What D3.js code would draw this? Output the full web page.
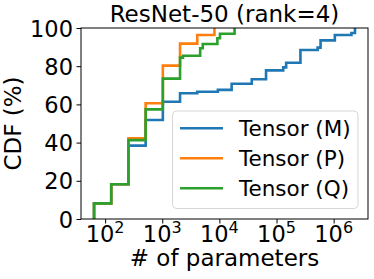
<!DOCTYPE html>
<html>
<head>
<meta charset="utf-8">
<script src="https://cdn.jsdelivr.net/npm/d3@7/dist/d3.min.js"></script>
<style>
  html, body { margin: 0; padding: 0; background: #fff; overflow: hidden; }
  svg { display: block; }
</style>
</head>
<body>
<svg id="chart" width="374" height="279" viewBox="0 0 374 279"></svg>
<script>
// chart data
const titleText = 'ResNet-50 (rank=4)';
const xLabel = '# of parameters';
const yLabel = 'CDF (%)';
const seriesNames = ['Tensor (M)', 'Tensor (P)', 'Tensor (Q)'];
const seriesColors = ['#1f77b4', '#ff7f0e', '#2ca02c'];

// tensor sizes (x) and cumulative percentage (y) at each step
const sizesM = [64, 128, 256, 512, 1024, 2048, 4096, 9408, 16384, 36864, 65536, 131072, 147456, 262144, 524288, 589824, 1048576, 2048000, 2359296];
const cdfM   = [8.2, 18.2, 38.4, 51.8, 61.4, 65.8, 66.6, 67.6, 70.8, 73.2, 77.8, 79.4, 81.8, 88.5, 89.7, 93.5, 96.3, 97.4, 100];
const sizesP = [64, 128, 256, 512, 1024, 2048, 4096, 8192];
const cdfP   = [8.2, 18.2, 42.2, 60.6, 80.3, 91.8, 96.3, 100];
const sizesQ = [64, 128, 256, 512, 1024, 2048, 2304, 4608, 5120, 9216, 10240, 18432];
const cdfQ   = [8.2, 18.2, 41.3, 57.4, 73.5, 84.5, 85.5, 89.4, 91.6, 94.6, 97.0, 100];

const xTickExps = [2, 3, 4, 5, 6];
const yTicks = [0, 20, 40, 60, 80, 100];

const series = [
  { name: seriesNames[0], color: seriesColors[0], sizes: sizesM, cdf: cdfM },
  { name: seriesNames[1], color: seriesColors[1], sizes: sizesP, cdf: cdfP },
  { name: seriesNames[2], color: seriesColors[2], sizes: sizesQ, cdf: cdfQ }
];

const FONT = 'DejaVu Sans, sans-serif';
const margin = { top: 28, right: 6, bottom: 60, left: 81 };
const width = 374, height = 279;
const innerWidth = width - margin.left - margin.right;
const innerHeight = height - margin.top - margin.bottom;

const svg = d3.select('#chart');
const g = svg.append('g').attr('transform', `translate(${margin.left},${margin.top})`);

// log x domain with 5% padding (in log space) like matplotlib autoscale
const allSizes = series.flatMap(s => s.sizes);
const lo = Math.log10(d3.min(allSizes)), hi = Math.log10(d3.max(allSizes));
const pad = (hi - lo) * 0.05;
const x = d3.scaleLog()
  .domain([Math.pow(10, lo - pad), Math.pow(10, hi + pad)])
  .range([0, innerWidth]);
const y = d3.scaleLinear().domain([0, 100]).range([innerHeight, 0]);

svg.append('defs').append('clipPath').attr('id', 'plot-clip')
  .append('rect').attr('x', 0).attr('y', -2).attr('width', innerWidth).attr('height', innerHeight + 2);

// step lines
const line = d3.line()
  .x(d => x(d[0]))
  .y(d => y(d[1]))
  .curve(d3.curveStepAfter);

const lines = g.append('g').attr('clip-path', 'url(#plot-clip)');
series.forEach(s => {
  const pts = [[s.sizes[0], 0]].concat(s.sizes.map((v, i) => [v, s.cdf[i]]));
  lines.append('path')
    .attr('d', line(pts))
    .attr('fill', 'none')
    .attr('stroke', s.color)
    .attr('stroke-width', 2.6)
    .attr('stroke-linejoin', 'miter');
});

// x axis (log, 10^n labels)
const xAxis = g.append('g')
  .attr('transform', `translate(0,${innerHeight})`)
  .call(d3.axisBottom(x).tickValues(xTickExps.map(e => Math.pow(10, e))).tickSize(4.5));
xAxis.select('.domain').remove();
xAxis.selectAll('.tick text').remove();
xAxis.selectAll('line').attr('stroke', '#000').attr('stroke-width', 1);

const xLabels = g.append('g');
xTickExps.forEach(e => {
  const t = xLabels.append('text')
    .attr('x', x(Math.pow(10, e)))
    .attr('y', innerHeight + 23)
    .attr('text-anchor', 'middle')
    .attr('font-family', FONT)
    .attr('font-size', 22.5)
    .attr('fill', '#000');
  t.append('tspan').text('10');
  t.append('tspan').attr('dy', -9.5).attr('font-size', 16).text(e);
});

// y axis
const yAxis = g.append('g')
  .call(d3.axisLeft(y).tickValues(yTicks).tickSize(4.5).tickPadding(3.5));
yAxis.select('.domain').remove();
yAxis.selectAll('line').attr('stroke', '#000').attr('stroke-width', 1);
yAxis.attr('font-family', FONT).attr('font-size', 22.5);
yAxis.selectAll('text')
  .attr('fill', '#000')
  .attr('dy', '0.36em');

// spines
g.append('rect')
  .attr('x', 0).attr('y', 0)
  .attr('width', innerWidth).attr('height', innerHeight)
  .attr('fill', 'none')
  .attr('stroke', '#000')
  .attr('stroke-width', 1);

// legend
const legend = g.append('g').attr('transform', 'translate(91.5,83)');
legend.append('rect')
  .attr('width', 185.5).attr('height', 97.5)
  .attr('rx', 4).attr('ry', 4)
  .attr('fill', '#fff').attr('fill-opacity', 0.8)
  .attr('stroke', '#d6d6d6').attr('stroke-width', 1);
series.forEach((s, i) => {
  const row = legend.append('g').attr('transform', `translate(0,${17.3 + i * 30})`);
  row.append('line')
    .attr('x1', 7.5).attr('x2', 50.5)
    .attr('stroke', s.color).attr('stroke-width', 2.6);
  row.append('text')
    .attr('x', 66.5).attr('y', 7.8)
    .attr('font-family', FONT)
    .attr('font-size', 21.5)
    .attr('fill', '#000')
    .text(s.name);
});

// titles
svg.append('text')
  .attr('x', margin.left + innerWidth / 2).attr('y', 21.5)
  .attr('text-anchor', 'middle')
  .attr('font-family', FONT).attr('font-size', 23).attr('fill', '#000')
  .text(titleText);

svg.append('text')
  .attr('x', margin.left + innerWidth / 2).attr('y', 265.5)
  .attr('text-anchor', 'middle')
  .attr('font-family', FONT).attr('font-size', 23).attr('fill', '#000')
  .text(xLabel);

svg.append('text')
  .attr('transform', `translate(21,${margin.top + innerHeight / 2}) rotate(-90)`)
  .attr('text-anchor', 'middle')
  .attr('font-family', FONT).attr('font-size', 23).attr('fill', '#000')
  .text(yLabel);
</script>
</body>
</html>
